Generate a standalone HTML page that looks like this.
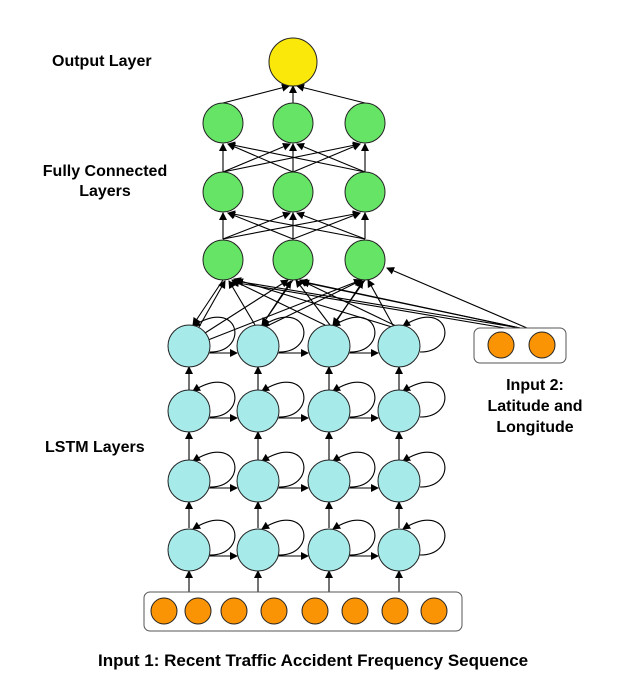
<!DOCTYPE html>
<html><head><style>body{margin:0;background:#fff}svg{display:block}text{font-family:"Liberation Sans",sans-serif;font-weight:bold;fill:#000}</style></head>
<body>
<svg width="638" height="689" viewBox="0 0 638 689" xmlns="http://www.w3.org/2000/svg">
<defs><marker id="a" markerWidth="8" markerHeight="8" refX="7" refY="4" orient="auto" markerUnits="userSpaceOnUse"><path d="M0,0 L8,4 L0,8 z" fill="#000"/></marker></defs>
<g stroke="#000" stroke-width="1.1" fill="none" marker-end="url(#a)">
<line x1="223" y1="103" x2="289" y2="86"/><line x1="293" y1="103" x2="293" y2="86"/><line x1="365" y1="103" x2="297" y2="86"/>
<line x1="223" y1="172" x2="223" y2="144"/><line x1="223" y1="172" x2="290" y2="144"/><line x1="223" y1="172" x2="360" y2="144"/>
<line x1="293" y1="172" x2="228" y2="144"/><line x1="293" y1="172" x2="293" y2="144"/><line x1="293" y1="172" x2="360" y2="144"/>
<line x1="365" y1="172" x2="228" y2="144"/><line x1="365" y1="172" x2="297" y2="144"/><line x1="365" y1="172" x2="365" y2="144"/>
<line x1="223" y1="239" x2="223" y2="213"/><line x1="223" y1="239" x2="290" y2="213"/><line x1="223" y1="239" x2="360" y2="213"/>
<line x1="293" y1="239" x2="228" y2="213"/><line x1="293" y1="239" x2="293" y2="213"/><line x1="293" y1="239" x2="360" y2="213"/>
<line x1="365" y1="239" x2="228" y2="213"/><line x1="365" y1="239" x2="297" y2="213"/><line x1="365" y1="239" x2="365" y2="213"/>
<line x1="199" y1="327" x2="225" y2="281"/><line x1="205" y1="333" x2="288" y2="280"/><line x1="208" y1="340" x2="361" y2="280"/>
<line x1="255" y1="325" x2="229" y2="281"/><line x1="262" y1="325" x2="291" y2="281"/><line x1="265" y1="327" x2="362" y2="280"/>
<line x1="325" y1="325" x2="232" y2="280"/><line x1="330" y1="325" x2="296" y2="280"/><line x1="334" y1="325" x2="363" y2="281"/>
<line x1="392" y1="327" x2="234" y2="279"/><line x1="396" y1="326" x2="300" y2="280"/><line x1="394" y1="327" x2="368" y2="280"/>
<line x1="505" y1="328" x2="232" y2="282"/><line x1="520" y1="328" x2="236" y2="281"/><line x1="520" y1="328" x2="300" y2="281"/><line x1="527" y1="328" x2="387" y2="268"/><line x1="520" y1="328" x2="302" y2="282"/>
<line x1="223" y1="280" x2="193" y2="325"/><line x1="293" y1="280" x2="262" y2="325"/><line x1="365" y1="280" x2="333" y2="325"/>
</g>
<g stroke="#000" stroke-width="1.1" fill="none" marker-end="url(#a)">
<line x1="189" y1="592" x2="189" y2="571"/><line x1="258" y1="592" x2="258" y2="571"/><line x1="329" y1="592" x2="329" y2="571"/><line x1="399" y1="592" x2="399" y2="571"/>
<line x1="189" y1="528" x2="189" y2="502"/><line x1="258" y1="528" x2="258" y2="502"/><line x1="329" y1="528" x2="329" y2="502"/><line x1="399" y1="528" x2="399" y2="502"/>
<line x1="189" y1="460" x2="189" y2="432"/><line x1="258" y1="460" x2="258" y2="432"/><line x1="329" y1="460" x2="329" y2="432"/><line x1="399" y1="460" x2="399" y2="432"/>
<line x1="189" y1="390" x2="189" y2="367"/><line x1="258" y1="390" x2="258" y2="367"/><line x1="329" y1="390" x2="329" y2="367"/><line x1="399" y1="390" x2="399" y2="367"/>
</g>
<g stroke="#000" stroke-width="1.1" fill="none" marker-end="url(#a)">
<path d="M209,353 L237,353"/><path d="M278,353 L308,353"/><path d="M349,353 L378,353"/>
<path d="M209,418 L237,418"/><path d="M278,418 L308,418"/><path d="M349,418 L378,418"/>
<path d="M209,488 L237,488"/><path d="M278,488 L308,488"/><path d="M349,488 L378,488"/>
<path d="M209,556 L237,556"/><path d="M278,556 L308,556"/><path d="M349,556 L378,556"/>
<path d="M210,352 C250,352 240,296 193,326"/><path d="M279,352 C319,352 309,296 262,326"/><path d="M350,352 C390,352 380,296 333,326"/><path d="M420,352 C460,352 450,296 403,326"/>
<path d="M210,417 C250,417 240,361 193,391"/><path d="M279,417 C319,417 309,361 262,391"/><path d="M350,417 C390,417 380,361 333,391"/><path d="M420,417 C460,417 450,361 403,391"/>
<path d="M210,487 C250,487 240,431 193,461"/><path d="M279,487 C319,487 309,431 262,461"/><path d="M350,487 C390,487 380,431 333,461"/><path d="M420,487 C460,487 450,431 403,461"/>
<path d="M210,555 C250,555 240,499 193,529"/><path d="M279,555 C319,555 309,499 262,529"/><path d="M350,555 C390,555 380,499 333,529"/><path d="M420,555 C460,555 450,499 403,529"/>
</g>
<g stroke="#222" stroke-width="1">
<circle cx="293" cy="62" r="24" fill="#f9e80a"/>
<g fill="#66e466">
<circle cx="223" cy="123" r="20"/><circle cx="293" cy="123" r="20"/><circle cx="365" cy="123" r="20"/>
<circle cx="223" cy="192" r="20"/><circle cx="293" cy="192" r="20"/><circle cx="365" cy="192" r="20"/>
<circle cx="223" cy="260" r="20"/><circle cx="293" cy="260" r="20"/><circle cx="365" cy="260" r="20"/>
</g>
<g fill="#a6eaea">
<circle cx="189" cy="346" r="21"/><circle cx="258" cy="346" r="21"/><circle cx="329" cy="346" r="21"/><circle cx="399" cy="346" r="21"/>
<circle cx="189" cy="411" r="21"/><circle cx="258" cy="411" r="21"/><circle cx="329" cy="411" r="21"/><circle cx="399" cy="411" r="21"/>
<circle cx="189" cy="481" r="21"/><circle cx="258" cy="481" r="21"/><circle cx="329" cy="481" r="21"/><circle cx="399" cy="481" r="21"/>
<circle cx="189" cy="550" r="21"/><circle cx="258" cy="550" r="21"/><circle cx="329" cy="550" r="21"/><circle cx="399" cy="550" r="21"/>
</g>
<rect x="144" y="592" width="318" height="39" rx="6" fill="#fff" stroke="#555"/>
<rect x="474" y="328" width="92" height="35" rx="6" fill="#fff" stroke="#555"/>
<g fill="#fb9404">
<circle cx="164" cy="611" r="13"/><circle cx="198" cy="611" r="13"/><circle cx="234" cy="611" r="13"/><circle cx="274" cy="611" r="13"/><circle cx="315" cy="611" r="13"/><circle cx="355" cy="611" r="13"/><circle cx="395" cy="611" r="13"/><circle cx="434" cy="611" r="13"/>
<circle cx="501" cy="345" r="13"/><circle cx="542" cy="345" r="13"/>
</g>
</g>
<text x="52" y="66" font-size="16">Output Layer</text>
<text x="105" y="176" font-size="16" text-anchor="middle">Fully Connected</text>
<text x="105" y="196" font-size="16" text-anchor="middle">Layers</text>
<text x="45" y="452" font-size="16">LSTM Layers</text>
<text x="535" y="390" font-size="16" text-anchor="middle">Input 2:</text>
<text x="535" y="411" font-size="16" text-anchor="middle">Latitude and</text>
<text x="535" y="432" font-size="16" text-anchor="middle">Longitude</text>
<text x="98" y="666" font-size="17">Input 1: Recent Traffic Accident Frequency Sequence</text>
</svg>
</body></html>
